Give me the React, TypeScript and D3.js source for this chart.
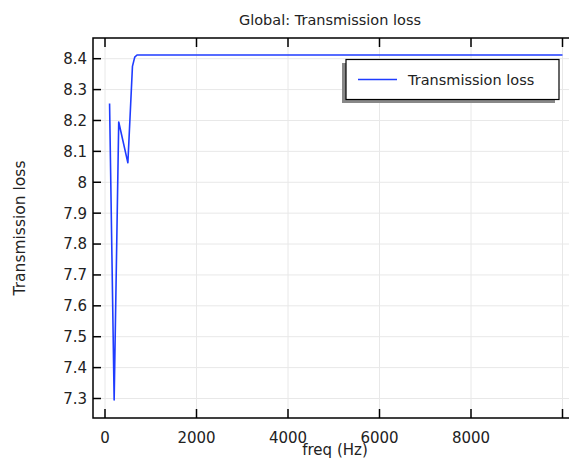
import React from 'react'
import * as d3 from 'd3'

// freq (Hz) and transmission loss
const freqs = [100, 200, 300, 500, 600, 650, 700, 1000, 10000]
const loss = [8.255, 7.295, 8.195, 8.063, 8.375, 8.405, 8.412, 8.412, 8.412]
const xTicks = [0, 2000, 4000, 6000, 8000, 10000]
const xTickLabels = ['0', '2000', '4000', '6000', '8000', '']
const yTicks = [7.3, 7.4, 7.5, 7.6, 7.7, 7.8, 7.9, 8, 8.1, 8.2, 8.3, 8.4]

const title = 'Global: Transmission loss'
const xLabel = 'freq (Hz)'
const yLabel = 'Transmission loss'
const seriesName = 'Transmission loss'

const font = '"DejaVu Sans", sans-serif'
const lineColour = '#1f3cff'

export default function App() {
  const width = 569
  const height = 459
  const left = 93
  const right = 590
  const top = 38
  const bottom = 418

  const x = d3.scaleLinear().domain([0, 10000]).range([105, 562.5])
  const y = d3.scaleLinear().domain([7.3, 8.4]).range([398.5, 58.7])

  const line = d3.line<number>()
    .x((_, i) => x(freqs[i]))
    .y(d => y(d))

  return (
    <div style={{ position: 'absolute', left: 0, top: 0 }}>
      <svg width={width} height={height} style={{ display: 'block', background: '#fff' }}>
        {/* grid */}
        {xTicks.map(t => (
          <line key={`gx${t}`} x1={x(t)} x2={x(t)} y1={top} y2={bottom} stroke="#e8e8e8" strokeWidth={1} />
        ))}
        {yTicks.map(t => (
          <line key={`gy${t}`} x1={left} x2={right} y1={y(t)} y2={y(t)} stroke="#e8e8e8" strokeWidth={1} />
        ))}

        <path d={line(loss) || ''} fill="none" stroke={lineColour} strokeWidth={1.6} strokeLinejoin="round" />

        {/* frame */}
        <rect x={left} y={top} width={right - left} height={bottom - top} fill="none" stroke="#000" strokeWidth={1.5} />

        {/* x ticks, bottom and top */}
        {xTicks.map((t, i) => (
          <g key={`tx${t}`}>
            <line x1={x(t)} x2={x(t)} y1={bottom} y2={bottom - 9} stroke="#000" strokeWidth={1.5} />
            <line x1={x(t)} x2={x(t)} y1={top} y2={top + 9} stroke="#000" strokeWidth={1.5} />
            <text x={x(t)} y={443} textAnchor="middle" fontFamily={font} fontSize={15} fill="#222">{xTickLabels[i]}</text>
          </g>
        ))}

        {/* y ticks */}
        {yTicks.map(t => (
          <g key={`ty${t}`}>
            <line x1={left} x2={left + 8} y1={y(t)} y2={y(t)} stroke="#000" strokeWidth={1.5} />
            <text x={87} y={y(t)} dy="0.36em" textAnchor="end" fontFamily={font} fontSize={15} fill="#222">{d3.format('~g')(t)}</text>
          </g>
        ))}

        <text x={330} y={25} textAnchor="middle" fontFamily={font} fontSize={14.5} fill="#222">{title}</text>
        <text x={335} y={455} textAnchor="middle" fontFamily={font} fontSize={15} fill="#222">{xLabel}</text>
        <text transform="translate(25,228) rotate(-90)" textAnchor="middle" fontFamily={font} fontSize={15.5} fill="#222">{yLabel}</text>

        {/* legend */}
        <rect x={342} y={63} width={213} height={40} fill="#888" />
        <rect x={346} y={59.5} width={213} height={40} fill="#fff" stroke="#000" strokeWidth={1.2} />
        <line x1={358} x2={397} y1={79.5} y2={79.5} stroke={lineColour} strokeWidth={1.6} />
        <text x={408} y={85} fontFamily={font} fontSize={14.5} fill="#222">{seriesName}</text>
      </svg>
    </div>
  )
}
